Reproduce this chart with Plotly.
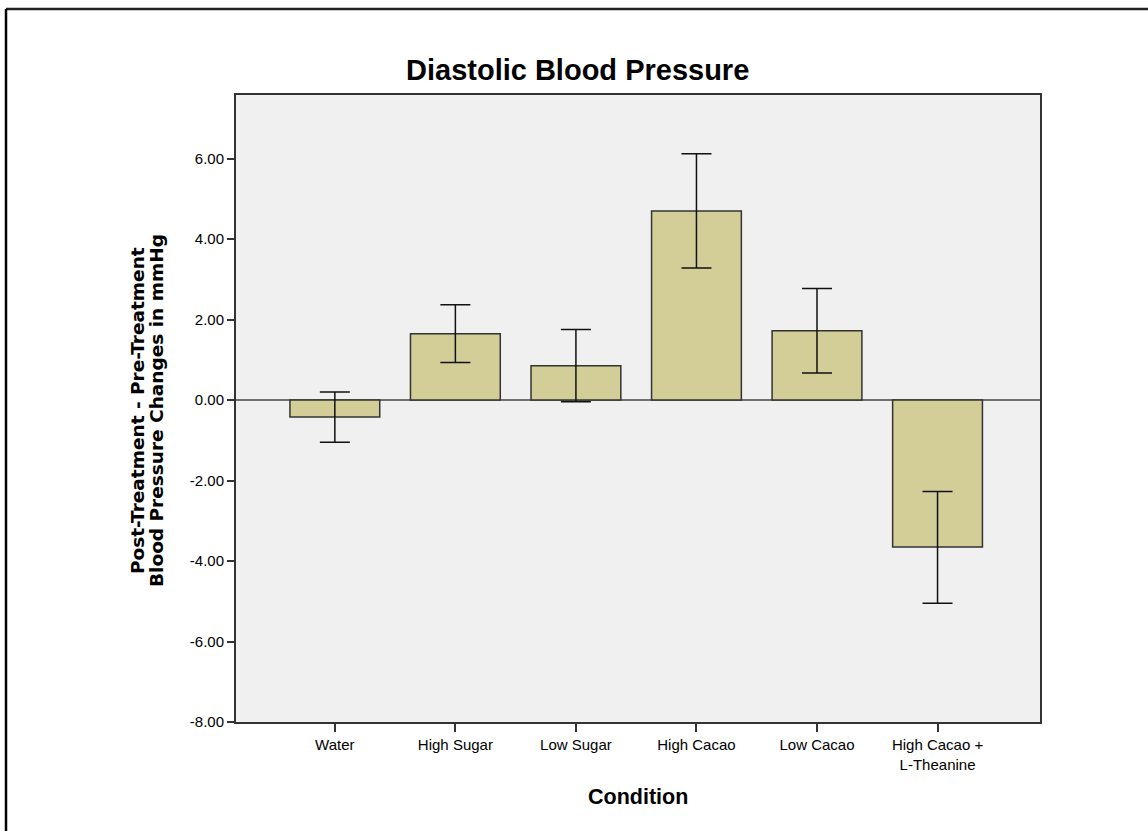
import plotly.graph_objects as go

categories = ["Water", "High Sugar", "Low Sugar", "High Cacao", "Low Cacao", "High Cacao +<br>L-Theanine"]
means = [-0.42, 1.65, 0.85, 4.70, 1.72, -3.65]
err_upper = [0.62, 0.72, 0.90, 1.42, 1.05, 1.38]
err_lower = [0.63, 0.72, 0.89, 1.42, 1.05, 1.40]
y_ticks = [-8, -6, -4, -2, 0, 2, 4, 6]
y_tick_labels = ["-8.00", "-6.00", "-4.00", "-2.00", "0.00", "2.00", "4.00", "6.00"]
y_title_lines = ["Post-Treatment - Pre-Treatment", "Blood Pressure Changes in mmHg"]

W, H = 1148, 831
L, R, T, B = 236, 108, 95, 109
pw, ph = W - L - R, H - T - B

def px(x):
    return (x - L) / pw

def py(y):
    return (H - B - y) / ph

fig = go.Figure()
fig.add_trace(go.Bar(
    x=list(range(len(categories))),
    y=means,
    marker=dict(color="#D3CE97", line=dict(color="#333333", width=1.5)),
    error_y=dict(type="data", symmetric=False, array=err_upper, arrayminus=err_lower,
                 color="#111111", thickness=1.5, width=15),
    width=0.745,
    showlegend=False,
))

font_main = "Liberation Sans, Arial, sans-serif"
font_wide = "DejaVu Sans, Liberation Sans, sans-serif"

annotations = [
    dict(text="<b>Diastolic Blood Pressure</b>", x=px(577), y=py(70), xref="paper", yref="paper",
         xanchor="center", yanchor="middle", showarrow=False,
         font=dict(size=29, family=font_main, color="black")),
    dict(text="<b>Condition</b>", x=px(638), y=py(797), xref="paper", yref="paper",
         xanchor="center", yanchor="middle", showarrow=False,
         font=dict(size=21.5, family=font_main, color="black")),
]
for i, line in enumerate(y_title_lines):
    annotations.append(dict(
        text="<b>" + line + "</b>", x=px(137 + 19 * i), y=py(411), xref="paper", yref="paper",
        xanchor="center", yanchor="middle", showarrow=False, textangle=-90,
        font=dict(size=18.5, family=font_wide, color="black")))

fig.update_layout(
    width=W, height=H,
    margin=dict(l=L, r=R, t=T, b=B, pad=0),
    paper_bgcolor="white",
    plot_bgcolor="#F0F0F0",
    font=dict(family=font_main, color="black", size=15),
    xaxis=dict(
        range=[-0.82, 5.85],
        tickmode="array",
        tickvals=list(range(len(categories))),
        ticktext=categories,
        ticks="outside", ticklen=8, tickwidth=1.5, tickcolor="#333333",
        showline=True, linecolor="#333333", linewidth=2, mirror=True,
        showgrid=False, zeroline=False,
        tickfont=dict(size=15, family=font_main),
    ),
    yaxis=dict(
        range=[-8, 7.58],
        tickmode="array",
        tickvals=y_ticks,
        ticktext=y_tick_labels,
        ticks="outside", ticklen=7, tickwidth=1.5, tickcolor="#333333",
        showline=True, linecolor="#333333", linewidth=2, mirror=True,
        showgrid=False,
        zeroline=True, zerolinecolor="#707070", zerolinewidth=2,
        tickfont=dict(size=15, family=font_main),
    ),
    annotations=annotations,
    shapes=[
        dict(type="line", xref="paper", yref="paper", x0=px(6), x1=px(W), y0=py(9), y1=py(9),
             line=dict(color="#222222", width=2.5)),
        dict(type="line", xref="paper", yref="paper", x0=px(6), x1=px(6), y0=py(9), y1=py(H),
             line=dict(color="black", width=2.5)),
    ],
)

fig.write_html("out.html", config={"displayModeBar": False},
               post_script="document.body.style.margin='0';document.body.style.overflow='hidden';")
